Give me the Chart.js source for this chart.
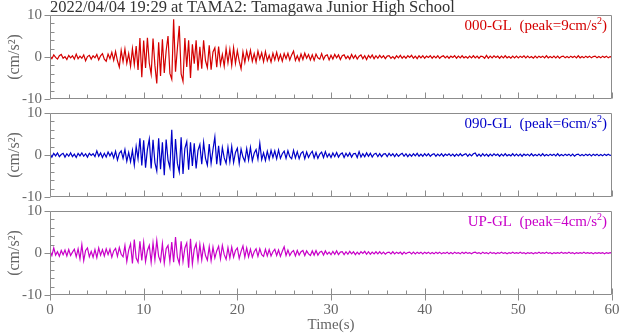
<!DOCTYPE html>
<html>
<head>
  <title>TAMA2 acceleration records</title>
  <script src="https://cdn.jsdelivr.net/npm/chart.js"></script>
  <style>
    body {
      margin: 0;
      background: #fff;
    }
    .wrap {
      position: relative;
      width: 620px;
      height: 334px;
    }
    .panel {
      position: absolute;
      left: 0;
      width: 620px;
    }
  </style>
</head>
<body>
  <div class="wrap">
    <div class="panel" style="top:0;height:108px"><canvas id="nsChart"></canvas></div>
    <div class="panel" style="top:100px;height:106px"><canvas id="ewChart"></canvas></div>
    <div class="panel" style="top:198px;height:136px"><canvas id="udChart"></canvas></div>
  </div>

  <script>
    const TITLE = '2022/04/04 19:29 at TAMA2: Tamagawa Junior High School';
    const DT = 0.2; // seconds between read-off samples

    // 000-GL, read every 0.2 s from 0 to 60 s (cm/s2), one line per 5 s
    const ns = [
      0.2,-0.4,0.5,-0.1,-0.5,0.3,0.6,-0.3,0.1,-0.6,0.4,-0.2,0.3,-0.5,0.7,-0.4,0.2,-0.3,0.5,-0.9,0.1,0.4,-0.5,0.3,-0.2,
      0.6,-0.7,0.3,0.8,-0.5,-1.0,0.7,-0.4,1.1,-0.8,1.3,-0.9,-2.4,1.6,-1.1,1.9,-1.5,0.8,-2.2,2.0,-1.8,2.6,-3.1,4.5,-4.8,
      3.9,-2.6,4.6,-1.5,-4.1,4.4,-2.0,-6.3,3.5,-4.5,4.2,-3.8,1.5,5.0,-3.9,-5.3,9.0,-3.5,2.1,7.4,-4.0,-5.8,4.5,-2.4,4.0,
      -5.0,3.0,-1.6,4.0,-3.2,2.4,-2.8,4.0,-0.9,-2.5,2.8,-3.0,1.2,2.2,-2.4,2.5,-1.8,0.6,-2.2,2.0,-1.4,1.8,-2.0,2.2,-1.5,
      1.5,-1.0,-2.8,1.2,-1.3,1.4,-0.6,1.6,-1.0,0.8,-1.2,1.4,-0.5,1.0,-1.1,1.3,-0.9,0.4,-1.2,0.9,-0.7,1.1,-0.8,0.6,-1.0,
      0.8,-0.4,0.9,-0.7,0.5,1.4,-0.8,0.3,-0.9,0.7,-0.6,0.9,-0.3,0.6,-0.7,0.5,-0.8,0.7,-0.2,-0.5,0.8,-0.6,0.3,0.5,-0.7,
      0.4,-0.5,0.6,-0.2,0.5,-0.6,0.3,0.5,-0.4,0.2,-0.5,0.6,-0.3,0.4,-0.5,0.2,0.5,-0.4,0.3,-0.6,0.4,-0.2,0.5,-0.4,0.3,
      -0.3,0.4,-0.2,0.3,-0.4,0.2,0.3,-0.3,0.1,-0.4,0.3,-0.2,0.4,-0.3,0.2,-0.3,0.3,-0.1,0.4,-0.3,0.2,-0.4,0.3,-0.2,0.3,
      -0.3,0.2,-0.1,0.3,-0.3,0.2,-0.2,0.3,-0.3,0.1,0.3,-0.2,0.2,-0.3,0.2,-0.1,0.3,-0.3,0.2,-0.2,0.3,-0.2,0.1,-0.3,0.2,
      -0.2,0.3,-0.2,0.2,-0.3,0.2,0.1,-0.3,0.4,-0.3,0.2,-0.2,0.3,-0.1,0.2,-0.3,0.2,-0.2,0.3,-0.2,0.1,-0.3,0.2,-0.2,0.2,
      -0.2,0.2,-0.1,0.3,-0.2,0.2,-0.2,0.1,-0.3,0.2,-0.2,0.2,-0.1,0.2,-0.2,0.3,-0.2,0.1,-0.2,0.2,-0.2,0.2,-0.3,0.1,0.2,
      -0.2,0.1,-0.2,0.2,-0.1,0.2,-0.2,0.3,-0.2,0.1,-0.2,0.2,-0.1,0.2,-0.2,0.1,0.2,-0.2,0.1,-0.2,0.2,-0.1,0.2,-0.2,0.1,
      0.0
    ];

    // 090-GL
    const ew = [
      0.3,-0.5,0.4,-0.2,0.5,-0.4,0.1,0.4,-0.5,0.3,-0.3,0.5,-0.4,0.2,-0.6,0.4,-0.2,0.5,-0.3,0.3,-0.5,0.4,-0.1,0.3,-0.4,
      1.0,-0.3,0.5,-0.6,0.4,-0.5,0.7,-0.2,0.6,-0.7,0.9,-1.2,0.4,1.0,-0.8,1.3,-1.5,0.6,-1.6,1.1,-2.4,2.0,-0.9,4.0,-2.5,
      3.5,-3.0,1.4,3.8,-3.2,3.6,-1.8,-3.8,4.0,-3.4,3.0,-4.8,3.7,-1.2,-3.0,6.0,-5.5,3.8,-2.0,-4.0,4.2,-4.5,1.6,3.2,-3.5,
      3.0,-2.6,2.8,-3.2,1.1,2.5,-2.2,3.0,-0.8,-2.4,2.6,-2.0,1.3,4.3,-2.2,2.2,-2.5,1.8,-0.7,-2.0,1.8,-1.6,2.0,-1.8,0.6,
      1.6,-2.0,1.4,-0.5,-1.5,1.5,-1.2,1.8,-1.4,0.4,1.3,-1.0,2.8,-1.1,0.5,-1.3,0.9,-1.0,1.1,-0.6,1.0,-0.9,1.2,-0.8,0.3,
      0.9,-0.8,1.0,-0.4,-0.9,1.1,-0.7,0.8,-0.9,0.4,0.8,-0.9,0.7,-0.6,0.3,0.9,-0.7,0.6,-0.8,0.2,0.7,-0.6,0.8,-0.5,0.3,
      -0.6,0.5,-0.4,0.6,-0.5,0.2,0.5,-0.6,0.4,-0.3,0.5,-0.5,0.3,0.4,-0.6,0.8,-0.5,0.3,-0.4,0.5,-0.3,0.4,-0.5,0.2,0.4,
      -0.4,0.3,-0.4,0.2,0.3,-0.4,0.4,-0.2,0.3,-0.4,0.3,-0.3,0.1,0.4,-0.3,0.3,-0.4,0.2,-0.3,0.3,-0.2,0.4,-0.3,0.2,-0.3,
      0.3,-0.2,0.3,-0.3,0.1,0.3,-0.3,0.2,-0.2,0.3,-0.3,0.2,-0.1,0.3,-0.2,0.2,-0.3,0.2,-0.2,0.3,-0.2,0.1,0.3,-0.3,0.2,
      -0.2,0.3,0.5,-0.3,0.2,-0.3,0.3,-0.2,0.2,-0.3,0.2,-0.2,0.3,-0.1,0.2,-0.3,0.2,-0.2,0.3,-0.2,0.1,-0.2,0.3,-0.2,0.2,
      -0.2,0.2,-0.3,0.2,-0.1,0.2,-0.2,0.3,-0.2,0.1,-0.2,0.2,-0.2,0.3,-0.2,0.1,-0.2,0.2,-0.1,0.2,-0.2,0.3,-0.2,0.1,-0.2,
      0.2,-0.1,0.2,-0.2,0.2,-0.3,0.1,0.2,-0.2,0.1,-0.2,0.2,-0.1,0.2,-0.2,0.2,-0.1,0.2,-0.2,0.1,-0.2,0.2,-0.1,0.2,-0.1,
      0.0
    ];

    // UP-GL
    const ud = [
      0.5,-0.6,1.2,-0.5,0.3,-0.8,0.6,-0.4,0.7,-0.7,0.8,-0.6,0.2,0.9,-0.9,1.0,-1.4,2.0,-1.8,0.6,1.2,-0.9,0.4,-1.0,0.8,
      -1.1,1.2,-0.5,0.8,-0.7,1.0,-0.4,0.9,-1.0,0.5,1.1,-0.8,1.3,-0.3,-0.9,1.8,-2.0,0.7,2.2,-2.5,3.2,-1.2,-2.2,2.8,-1.8,
      2.5,-2.0,0.6,1.8,-2.2,2.4,-1.6,3.0,-0.8,-2.0,2.2,-2.4,1.0,1.8,-2.0,2.6,-2.2,3.8,-1.0,-2.5,2.8,-2.0,1.2,2.4,-3.5,
      3.4,-2.6,0.9,2.2,-1.8,2.0,-1.6,1.8,-0.6,-1.7,1.5,-1.8,1.4,-1.2,0.5,1.6,-1.4,1.8,-0.4,-1.5,1.3,-1.2,1.4,-1.0,0.6,
      1.2,-1.3,0.4,1.7,-1.0,1.2,-0.9,0.9,-1.0,0.3,1.0,-0.8,1.0,-0.4,-0.8,0.9,-0.7,0.8,-0.7,0.3,0.9,-0.6,0.7,-0.8,0.4,
      1.5,-0.6,0.7,-0.6,0.2,0.6,-0.7,0.6,-0.5,0.3,0.6,-0.6,0.5,-0.2,-0.6,0.5,-0.5,0.6,-0.5,0.2,0.4,-0.5,0.5,-0.3,0.2,
      -0.4,0.4,-0.3,0.5,-0.4,0.2,0.3,-0.4,0.3,-0.3,0.4,-0.2,0.3,-0.4,0.2,-0.3,0.3,-0.1,0.4,-0.3,0.3,-0.3,0.2,-0.2,0.3,
      -0.2,0.3,-0.2,0.2,-0.3,0.1,0.2,-0.2,0.3,-0.2,0.2,-0.1,0.2,-0.3,0.2,-0.2,0.1,0.2,-0.2,0.2,-0.2,0.2,-0.1,0.2,-0.2,
      0.2,-0.1,0.2,-0.2,0.1,-0.2,0.2,-0.1,0.2,-0.2,0.1,-0.1,0.2,-0.2,0.1,-0.2,0.2,-0.1,0.1,-0.2,0.2,-0.1,0.2,-0.1,0.1,
      -0.2,0.1,0.2,-0.1,0.1,-0.2,0.2,-0.1,0.1,-0.2,0.2,-0.1,0.1,-0.2,0.1,-0.1,0.2,-0.1,0.1,-0.2,0.1,-0.1,0.2,-0.1,0.1,
      -0.1,0.2,-0.1,0.1,-0.2,0.1,-0.1,0.1,-0.2,0.1,-0.1,0.2,-0.1,0.1,-0.1,0.2,-0.1,0.1,-0.2,0.1,-0.1,0.1,-0.1,0.2,-0.1,
      0.1,-0.1,0.2,-0.1,0.1,-0.2,0.1,-0.1,0.1,-0.1,0.2,-0.1,0.1,-0.1,0.1,-0.2,0.1,-0.1,0.1,-0.1,0.1,-0.2,0.1,-0.1,0.1,
      0.0
    ];

    const FONT = '"Liberation Serif", "DejaVu Serif", serif';
    const GREY = '#666';

    // frame, inward/outward tick marks and the component label
    const framePlugin = {
      id: 'frame',
      afterDatasetsDraw(chart, args, opts) {
        const { ctx, chartArea: a, scales: { x, y } } = chart;
        const L = Math.round(a.left) + 0.5;
        const R = Math.round(a.right) - 0.5;
        const T = Math.round(a.top) + 0.5;
        const B = Math.round(a.bottom) - 0.5;
        ctx.save();
        ctx.strokeStyle = '#8c8c8c';
        ctx.lineWidth = 1;
        ctx.beginPath();
        ctx.rect(L, T, R - L, B - T);
        for (let v = -10; v <= 10; v += 2) {
          const py = Math.round(y.getPixelForValue(v)) + 0.5;
          if (v % 10 === 0) {
            ctx.moveTo(L - 6, py); ctx.lineTo(L, py);
          } else {
            ctx.moveTo(L, py); ctx.lineTo(L + 4, py);
          }
        }
        for (let t = 0; t <= 60; t += 2) {
          const px = Math.round(x.getPixelForValue(t)) + 0.5;
          ctx.moveTo(px, B);
          ctx.lineTo(px, B - (t % 10 === 0 ? 6 : 4));
          if (opts.bottom && t % 10 === 0) {
            ctx.moveTo(px, B); ctx.lineTo(px, B + 6);
          }
        }
        ctx.stroke();

        if (opts.title) {
          ctx.fillStyle = '#333';
          ctx.font = '16.5px ' + FONT;
          ctx.textAlign = 'left';
          ctx.textBaseline = 'alphabetic';
          ctx.fillText(opts.title, a.left, 12);
        }

        // "000-GL (peak=9cm/s²)" with a raised 2
        const main = opts.label + '  (peak=' + opts.peak + 'cm/s';
        ctx.textBaseline = 'alphabetic';
        ctx.textAlign = 'left';
        ctx.fillStyle = opts.color;
        ctx.font = '15px ' + FONT;
        const wMain = ctx.measureText(main).width;
        const wTail = ctx.measureText(')').width;
        ctx.font = '10px ' + FONT;
        const wSup = ctx.measureText('2').width;
        const base = a.top + 15;
        const sx = a.right - 5 - (wMain + wSup + wTail);
        ctx.font = '15px ' + FONT;
        ctx.fillText(main, sx, base);
        ctx.font = '10px ' + FONT;
        ctx.fillText('2', sx + wMain, base - 6);
        ctx.font = '15px ' + FONT;
        ctx.fillText(')', sx + wMain + wSup, base);
        ctx.restore();
      }
    };

    function makePanel(id, values, color, label, peak, topPad, isBottom, title) {
      return new Chart(document.getElementById(id), {
        type: 'line',
        data: {
          datasets: [{
            data: values.map((v, i) => ({ x: i * DT, y: v })),
            borderColor: color,
            borderWidth: 1.2,
            pointRadius: 0,
            tension: 0,
            fill: false
          }]
        },
        options: {
          responsive: true,
          maintainAspectRatio: false,
          animation: false,
          layout: { padding: { top: topPad, right: 8, left: 0, bottom: 0 } },
          plugins: {
            legend: { display: false },
            tooltip: { enabled: false },
            frame: { color, label, peak, bottom: isBottom, title }
          },
          scales: {
            x: {
              type: 'linear',
              min: 0,
              max: 60,
              border: { display: false },
              grid: { display: false, drawTicks: false },
              ticks: { display: isBottom, stepSize: 10, color: GREY, font: { family: FONT, size: 15 }, padding: 6 },
              title: { display: isBottom, text: 'Time(s)', color: GREY, font: { family: FONT, size: 15 }, padding: 0 },
              afterFit: s => {
                s.height = isBottom ? 39 : 9;
                s.paddingLeft = 0;
                s.paddingRight = 0;
              }
            },
            y: {
              min: -10,
              max: 10,
              border: { display: false },
              grid: { display: false, drawTicks: false },
              ticks: { stepSize: 10, color: GREY, font: { family: FONT, size: 15 }, padding: 8 },
              title: { display: true, text: '(cm/s²)', color: GREY, font: { family: FONT, size: 16 }, padding: { top: 5, bottom: 0 } },
              afterFit: s => {
                s.width = 50;
                s.paddingTop = 0;
                s.paddingBottom = 0;
              }
            }
          }
        },
        plugins: [framePlugin]
      });
    }

    makePanel('nsChart', ns, '#d40000', '000-GL', 9, 15, false, TITLE);
    makePanel('ewChart', ew, '#0000c8', '090-GL', 6, 13, false, null);
    makePanel('udChart', ud, '#c800c8', 'UP-GL', 4, 13, true, null);
  </script>
</body>
</html>
